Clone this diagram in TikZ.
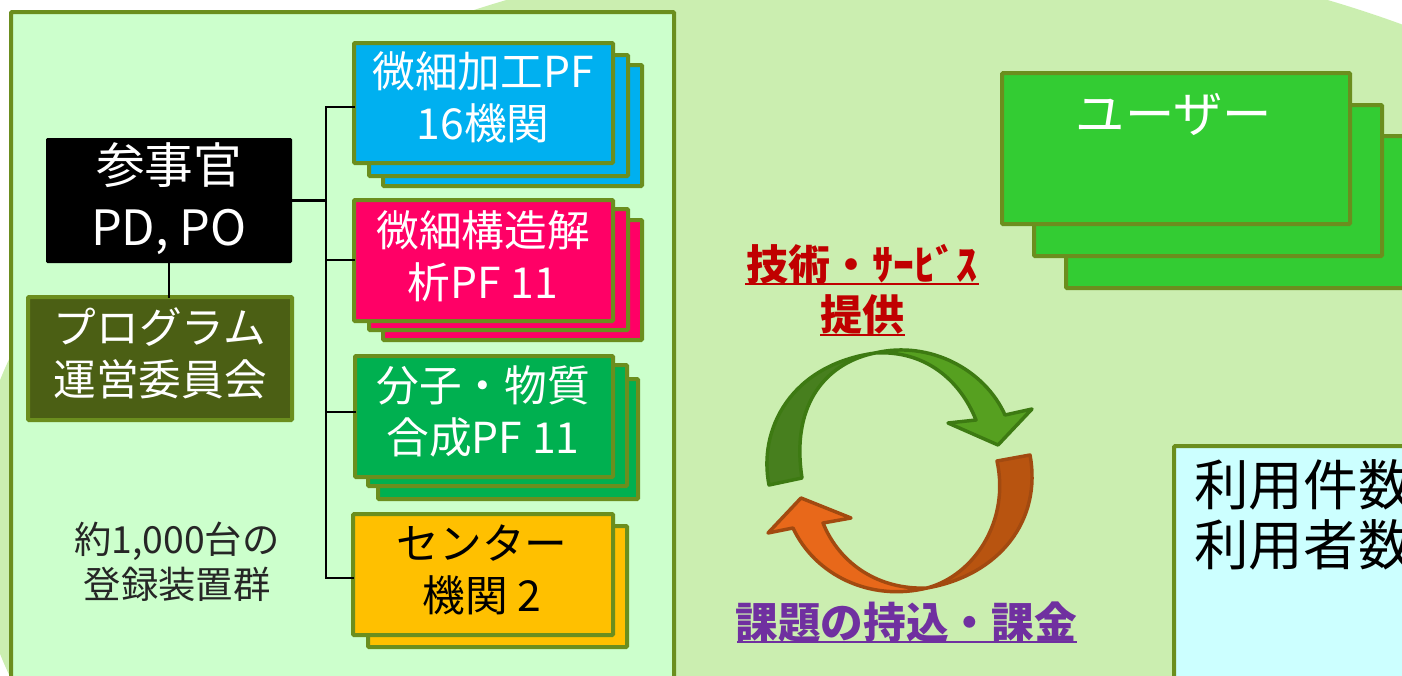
\documentclass[tikz,border=0pt]{standalone}
\usepackage{fontspec}
\setmainfont{Noto Sans CJK JP}
\newfontfamily\jp{Noto Sans CJK JP}
\definecolor{bgG}{HTML}{CBEEB0}
\definecolor{frameG}{HTML}{CCFFCC}
\definecolor{edgeG}{HTML}{6B8E1E}
\definecolor{pfblue}{HTML}{00B0F0}
\definecolor{pfpink}{HTML}{FF0066}
\definecolor{pfgreen}{HTML}{00B050}
\definecolor{pforange}{HTML}{FFC000}
\definecolor{olive}{HTML}{4B5F14}
\definecolor{usergreen}{HTML}{33CC33}
\definecolor{ccyan}{HTML}{CCFFFF}
\definecolor{redT}{HTML}{C00000}
\definecolor{purpT}{HTML}{7030A0}
\definecolor{aDark}{HTML}{477F1E}
\definecolor{aLight}{HTML}{56A020}
\definecolor{aEdge}{HTML}{3D7A12}
\definecolor{oDark}{HTML}{B85410}
\definecolor{oLight}{HTML}{E8681A}
\definecolor{oEdge}{HTML}{A24A10}
\tikzset{
  boxst/.style={draw=edgeG,line width=3pt,rounded corners=0.8pt,inner sep=0pt,outer sep=0pt},
  conn/.style={draw=black,line width=1.6pt,line cap=rect},
  wtext/.style={text=white,align=center,inner sep=0pt,font=\jp\fontsize{32}{39}\selectfont},
  ktext/.style={text=black,align=center,inner sep=0pt,font=\jp\fontsize{32}{39}\selectfont},
  arr/.style={line width=2.6pt,line join=round},
}
% name, x1,y1,x2,y2 outer edges in px, fill colour
\newcommand{\bx}[6]{\node[boxst,fill=#6,minimum width={(#4-#2-4)*0.75pt},minimum height={(#5-#3-4)*0.75pt}] (#1) at ({(#2+#4)/2},{(#3+#5)/2}) {};}
\begin{document}
\begin{tikzpicture}[x=0.75pt,y=-0.75pt]
\path[use as bounding box,clip] (0,0) rectangle (1402,675);
\fill[white] (0,0) rectangle (1402,675);
\fill[bgG] (917,517) ellipse [x radius=944,y radius=574];
\bx{frame}{9}{10}{676}{720}{frameG}
% connectors
\coordinate (b1) at (326,107);
\coordinate (b2) at (326,260);
\coordinate (b3) at (326,412);
\coordinate (b4) at (326,578);
\coordinate (b0) at (326,200);
% stacks
\bx{blueC}{381}{63}{644}{188}{pfblue}
\bx{blueB}{367}{53}{630}{178}{pfblue}
\bx{blue}{352}{41}{615}{165}{pfblue}
\bx{pinkC}{381}{218}{644}{342}{pfpink}
\bx{pinkB}{367}{207}{630}{332}{pfpink}
\bx{pink}{352}{198}{615}{323}{pfpink}
\bx{greenC}{376}{377}{640}{501}{pfgreen}
\bx{greenB}{366}{363}{629}{488}{pfgreen}
\bx{green}{353}{354}{615}{479}{pfgreen}
\bx{orangeB}{366}{524}{629}{649}{pforange}
\bx{orange}{351}{512}{615}{637}{pforange}
\node[fill=black,rounded corners=1pt,inner sep=0pt,outer sep=0pt,minimum width={246*0.75pt},minimum height={125*0.75pt}] (ceo) at (169,200.5) {};
\bx{board}{26}{295}{294}{422}{olive}
\draw[conn] (ceo.east) -- (b0 |- ceo.east);
\draw[conn] (b1) -- (b4);
\draw[conn] (b1) -- (blue.west |- b1);
\draw[conn] (b2) -- (pink.west |- b2);
\draw[conn] (b3) -- (green.west |- b3);
\draw[conn] (b4) -- (orange.west |- b4);
\draw[conn] (ceo.south) -- (ceo.south |- board.north);
% users
\bx{userC}{1064}{134}{1500}{290}{usergreen}
\bx{userB}{1032}{103}{1384}{258}{usergreen}
\bx{user}{1000}{71}{1352}{226}{usergreen}
\bx{stats}{1172}{444}{1600}{800}{ccyan}
% texts
\node[wtext] (tBlue) at (483,97) {微細加工PF\\16機関};
\node[wtext] (tPink) at (483,256) {微細構造解\\析PF 11};
\node[wtext] (tGreen) at (483,411.5) {分子・物質\\合成PF 11};
\node[ktext] (tOrange) at (482,570) {センター\\機関 2};
\node[wtext,font=\jp\fontsize{36.5}{46.5}\selectfont] (tCeo) at (169,199) {参事官\\PD, PO};
\node[wtext] (tBoard) at (160,353) {プログラム\\運営委員会};
\node[ktext,text=black!85,font=\jp\fontsize{28}{34}\selectfont] (tCount) at (177,562) {約1,000台の\\登録装置群};
\node[wtext,font=\jp\fontsize{37}{44}\selectfont] (tUser) at (1174,115) {ユーザー};
\node[ktext,anchor=west,font=\jp\fontsize{41}{50}\selectfont] (tStats) at (1194,522) {\begin{tabular}{@{}l@{}}利用件数\\[-5pt]利用者数\end{tabular}};
% labels
\node[inner sep=0pt,text=redT,font=\jp\bfseries\fontsize{31.5}{36}\selectfont] (tTech) at (862,264) {技術・ｻｰﾋﾞｽ};
\node[inner sep=0pt,text=redT,font=\jp\bfseries\fontsize{31.5}{36}\selectfont] (tProv) at (862,315) {提供};
\node[inner sep=0pt,text=purpT,font=\jp\bfseries\fontsize{32}{36}\selectfont] (tIssue) at (906,622) {課題の持込・課金};
\coordinate (u1a) at (745,284); \coordinate (u1b) at (979,284);
\coordinate (u2a) at (820,335); \coordinate (u2b) at (905,335);
\coordinate (u3a) at (737,642); \coordinate (u3b) at (1077,642);
\draw[redT,line width=1.5pt] (u1a) -- (u1b);
\draw[redT,line width=1.5pt] (u2a) -- (u2b);
\draw[purpT,line width=1.2pt] (u3a) -- (u3b);
% green cycle arrow
\filldraw[arr,fill=aDark,draw=aEdge] (769,485) .. controls (758,430) and (790,365) .. (875,353)
  .. controls (830,362) and (790,400) .. (802,478) -- cycle;
\filldraw[arr,fill=aLight,draw=aEdge] (875,353) .. controls (930,340) and (985,370) .. (1005,415)
  -- (1032,409) -- (998,445) -- (948,423) -- (976,420)
  .. controls (960,380) and (925,350) .. (875,353) -- cycle;
% orange cycle arrow
\filldraw[arr,fill=oDark,draw=oEdge] (1030,455) .. controls (1042,520) and (1000,575) .. (927,588)
  .. controls (975,575) and (1010,520) .. (997,461) -- cycle;
\filldraw[arr,fill=oLight,draw=oEdge] (927,588) .. controls (870,602) and (815,575) .. (793,528)
  -- (768,533) -- (801,498) -- (851,518) -- (823,523)
  .. controls (840,565) and (880,590) .. (927,588) -- cycle;
\end{tikzpicture}
\end{document}
